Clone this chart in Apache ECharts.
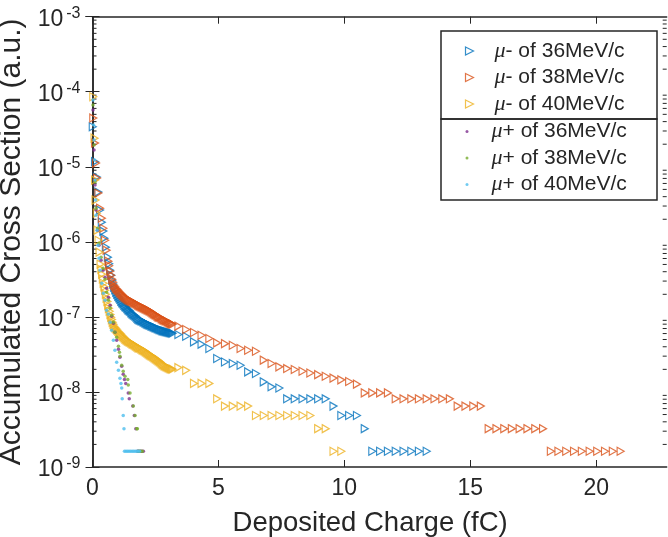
<!DOCTYPE html>
<html>
<head>
<meta charset="utf-8">
<script src="https://cdn.jsdelivr.net/npm/echarts@6/dist/echarts.min.js"></script>
<style>
  html, body { margin: 0; padding: 0; background: #fff; }
  #chart { width: 668px; height: 537px; }
</style>
</head>
<body>
<div id="chart"></div>
<script>
// values: [deposited charge (fC), accumulated cross section (a.u.)]
var xTicks = [0, 5, 10, 15, 20];

var muMinus36 = [
  [0.01,3.42e-5],[0.10,1.17e-5],[0.17,7.29e-6],[0.23,4.6e-6],[0.30,2.65e-6],[0.37,1.83e-6],[0.43,1.39e-6],
  [0.47,1.12e-6],[0.53,8.5e-7],[0.61,6.25e-7],[0.66,5.1e-7],
  [0.70,4.2e-7],[0.74,3.6e-7],[0.78,3.09e-7],[0.82,2.75e-7],[0.86,2.49e-7],[0.90,2.3e-7],[0.94,2.13e-7],
  [0.98,2.0e-7],[1.02,1.89e-7],[1.06,1.8e-7],[1.10,1.72e-7],[1.14,1.62e-7],[1.18,1.55e-7],[1.22,1.5e-7],
  [1.26,1.43e-7],[1.30,1.38e-7],[1.34,1.35e-7],[1.38,1.3e-7],[1.42,1.25e-7],[1.46,1.22e-7],[1.50,1.19e-7],
  [1.54,1.14e-7],[1.58,1.10e-7],[1.62,1.08e-7],[1.66,1.05e-7],[1.70,1.03e-7],[1.74,1.0e-7],[1.78,9.6e-8],
  [1.82,9.3e-8],[1.86,9.2e-8],[1.90,9.0e-8],[1.94,8.9e-8],[1.98,8.8e-8],[2.02,8.6e-8],[2.06,8.5e-8],
  [2.10,8.3e-8],[2.14,8.2e-8],[2.18,8.0e-8],[2.22,7.9e-8],[2.26,7.8e-8],[2.30,7.75e-8],[2.34,7.6e-8],
  [2.38,7.5e-8],[2.42,7.4e-8],[2.46,7.3e-8],[2.50,7.2e-8],[2.54,7.1e-8],[2.58,7.0e-8],[2.62,6.9e-8],
  [2.66,6.8e-8],[2.70,6.75e-8],[2.74,6.65e-8],[2.78,6.55e-8],[2.82,6.5e-8],[2.86,6.45e-8],[2.90,6.4e-8],
  [2.94,6.35e-8],[2.98,6.3e-8],[3.02,6.25e-8],[3.06,6.2e-8],[3.10,6.15e-8],[3.14,6.1e-8],[3.18,6.05e-8],
  [3.41,5.83e-8],[3.72,5.53e-8],[4.03,4.64e-8],[4.33,4.33e-8],[4.64,3.79e-8],[4.95,2.79e-8],[5.26,2.51e-8],
  [5.57,2.39e-8],[5.88,2.27e-8],[6.18,1.85e-8],[6.49,1.76e-8],[6.80,1.36e-8],[7.11,1.17e-8],[7.42,1.13e-8],
  [7.73,8.1e-9],[8.03,8.1e-9],[8.34,8.1e-9],[8.65,8.1e-9],[8.96,8.1e-9],[9.26,8.1e-9],[9.57,6.48e-9],
  [9.88,4.86e-9],[10.19,4.86e-9],[10.50,4.86e-9],[10.81,3.24e-9],[11.11,1.62e-9],[11.42,1.62e-9],
  [11.73,1.62e-9],[12.04,1.62e-9],[12.35,1.62e-9],[12.66,1.62e-9],[12.96,1.62e-9],[13.27,1.62e-9]
];

var muMinus38 = [
  [0.03,4.46e-5],[0.10,2.07e-5],[0.14,1.12e-5],[0.18,7.07e-6],[0.23,4.46e-6],[0.30,2.81e-6],[0.37,2.07e-6],
  [0.43,1.52e-6],[0.50,1.05e-6],[0.56,7.75e-7],[0.63,5.53e-7],[0.66,4.8e-7],
  [0.70,4.07e-7],[0.74,3.6e-7],[0.78,3.18e-7],[0.82,2.9e-7],[0.86,2.65e-7],[0.90,2.52e-7],[0.94,2.41e-7],
  [0.98,2.34e-7],[1.02,2.27e-7],[1.06,2.18e-7],[1.10,2.10e-7],[1.14,2.04e-7],[1.18,1.98e-7],[1.22,1.92e-7],
  [1.26,1.86e-7],[1.30,1.82e-7],[1.34,1.78e-7],[1.38,1.74e-7],[1.42,1.70e-7],[1.46,1.67e-7],[1.50,1.64e-7],
  [1.54,1.62e-7],[1.58,1.60e-7],[1.62,1.57e-7],[1.66,1.55e-7],[1.70,1.52e-7],[1.74,1.50e-7],[1.78,1.46e-7],
  [1.82,1.43e-7],[1.86,1.41e-7],[1.90,1.39e-7],[1.94,1.37e-7],[1.98,1.35e-7],[2.02,1.33e-7],[2.06,1.31e-7],
  [2.10,1.29e-7],[2.14,1.27e-7],[2.18,1.25e-7],[2.22,1.23e-7],[2.26,1.21e-7],[2.30,1.19e-7],[2.34,1.16e-7],
  [2.38,1.14e-7],[2.42,1.11e-7],[2.46,1.09e-7],[2.50,1.07e-7],[2.54,1.05e-7],[2.58,1.02e-7],[2.62,1.0e-7],
  [2.66,9.9e-8],[2.70,9.8e-8],[2.74,9.5e-8],[2.78,9.3e-8],[2.82,9.1e-8],[2.86,9.0e-8],[2.90,8.9e-8],
  [2.94,8.8e-8],[2.98,8.6e-8],[3.02,8.5e-8],[3.06,8.3e-8],[3.10,8.2e-8],[3.14,8.1e-8],[3.18,8.0e-8],
  [3.41,7.52e-8],[3.72,6.79e-8],[4.03,6.2e-8],[4.33,5.7e-8],[4.64,5.15e-8],[4.95,4.5e-8],[5.26,4.4e-8],
  [5.57,4.19e-8],[5.88,3.79e-8],[6.18,3.6e-8],[6.49,3.49e-8],[6.80,2.65e-8],[7.11,2.39e-8],[7.42,2.16e-8],
  [7.73,2.05e-8],[8.03,1.99e-8],[8.34,1.89e-8],[8.65,1.79e-8],[8.96,1.70e-8],[9.26,1.62e-8],[9.57,1.53e-8],
  [9.88,1.45e-8],[10.19,1.38e-8],[10.50,1.27e-8],[10.81,9.72e-9],[11.11,9.72e-9],[11.42,9.72e-9],
  [11.73,9.72e-9],[12.04,8.1e-9],[12.35,8.1e-9],[12.66,8.1e-9],[12.96,8.1e-9],[13.27,8.1e-9],[13.58,8.1e-9],
  [13.89,8.1e-9],[14.19,8.1e-9],[14.50,6.48e-9],[14.81,6.48e-9],[15.12,6.48e-9],[15.42,6.48e-9],
  [15.73,3.24e-9],[16.04,3.24e-9],[16.35,3.24e-9],[16.65,3.24e-9],[16.96,3.24e-9],[17.27,3.24e-9],
  [17.58,3.24e-9],[17.89,3.24e-9],[18.20,1.62e-9],[18.50,1.62e-9],[18.81,1.62e-9],[19.12,1.62e-9],
  [19.43,1.62e-9],[19.74,1.62e-9],[20.04,1.62e-9],[20.35,1.62e-9],[20.66,1.62e-9],[20.97,1.62e-9]
];

var muMinus40 = [
  [0.03,8.58e-5],[0.08,2.41e-5],[0.10,6.65e-6],[0.12,3.6e-6],[0.17,2.41e-6],[0.20,1.43e-6],[0.24,1.05e-6],
  [0.28,7.29e-7],[0.32,5.04e-7],[0.35,4.3e-7],[0.38,3.71e-7],[0.41,3.2e-7],[0.44,2.81e-7],[0.47,2.52e-7],
  [0.50,2.27e-7],[0.53,2.0e-7],[0.56,1.78e-7],[0.59,1.6e-7],[0.62,1.43e-7],[0.65,1.3e-7],[0.68,1.19e-7],
  [0.71,1.08e-7],[0.74,9.9e-8],[0.77,9.2e-8],[0.80,8.5e-8],[0.83,8.0e-8],[0.86,7.52e-8],[0.90,7.2e-8],
  [0.94,6.96e-8],[0.98,6.7e-8],[1.02,6.45e-8],[1.06,6.25e-8],[1.10,6.06e-8],[1.14,5.85e-8],[1.18,5.62e-8],
  [1.22,5.45e-8],[1.26,5.28e-8],[1.30,5.1e-8],[1.34,4.97e-8],[1.38,4.85e-8],[1.42,4.74e-8],[1.46,4.67e-8],
  [1.50,4.60e-8],[1.54,4.5e-8],[1.58,4.39e-8],[1.62,4.32e-8],[1.66,4.26e-8],[1.70,4.16e-8],[1.74,4.07e-8],
  [1.78,3.97e-8],[1.82,3.88e-8],[1.86,3.85e-8],[1.90,3.82e-8],[1.94,3.73e-8],[1.98,3.65e-8],[2.02,3.6e-8],
  [2.06,3.54e-8],[2.10,3.46e-8],[2.14,3.38e-8],[2.18,3.3e-8],[2.22,3.23e-8],[2.26,3.16e-8],[2.30,3.09e-8],
  [2.34,3.04e-8],[2.38,2.99e-8],[2.42,2.92e-8],[2.46,2.86e-8],[2.50,2.8e-8],[2.54,2.73e-8],[2.58,2.67e-8],
  [2.62,2.61e-8],[2.66,2.55e-8],[2.70,2.49e-8],[2.74,2.41e-8],[2.78,2.34e-8],[2.82,2.29e-8],[2.86,2.24e-8],
  [2.90,2.2e-8],[2.94,2.17e-8],[2.98,2.13e-8],[3.02,2.10e-8],[3.06,2.07e-8],[3.10,2.04e-8],[3.14,2.02e-8],
  [3.18,2.01e-8],
  [3.41,2.11e-8],[3.72,1.94e-8],[4.03,1.3e-8],[4.33,1.3e-8],[4.64,1.3e-8],[4.95,8.1e-9],[5.26,6.48e-9],
  [5.57,6.48e-9],[5.88,6.48e-9],[6.18,6.48e-9],[6.49,4.86e-9],[6.80,4.86e-9],[7.11,4.86e-9],[7.42,4.86e-9],
  [7.73,4.86e-9],[8.03,4.86e-9],[8.34,4.86e-9],[8.65,4.86e-9],[8.96,3.24e-9],[9.26,3.24e-9],
  [9.57,1.62e-9],[9.88,1.62e-9]
];

var muPlus36 = [
  [0.02,5.7e-5],[0.06,1.67e-5],[0.10,5.7e-6],[0.14,2.65e-6],[0.20,1.43e-6],[0.26,9.04e-7],[0.34,5.7e-7],
  [0.42,4.2e-7],[0.50,3.38e-7],[0.56,2.41e-7],[0.63,1.83e-7],[0.70,1.43e-7],[0.76,1.02e-7],[0.83,8.24e-8],
  [0.89,6.25e-8],[0.96,4.89e-8],[1.03,3.71e-8],[1.09,2.9e-8],[1.16,2.2e-8],[1.22,1.72e-8],[1.27,1.46e-8],
  [1.32,1.3e-8],[1.42,9.72e-9],[1.46,8.1e-9],[1.60,6.48e-9],[1.66,4.86e-9],[1.72,3.24e-9],
  [1.79,1.62e-9],[1.84,1.62e-9],[1.90,1.62e-9],[1.96,1.62e-9],[2.02,1.62e-9]
];

var muPlus38 = [
  [0.02,6.65e-5],[0.06,1.95e-5],[0.10,6.25e-6],[0.14,2.81e-6],[0.20,1.52e-6],[0.26,9.61e-7],[0.34,6.25e-7],
  [0.42,4.46e-7],[0.50,3.18e-7],[0.56,2.13e-7],[0.63,1.67e-7],[0.70,1.31e-7],[0.76,1.05e-7],[0.83,8.5e-8],
  [0.89,6.25e-8],[0.96,5.36e-8],[1.03,4.07e-8],[1.07,3.38e-8],[1.09,2.99e-8],[1.16,2.27e-8],[1.22,1.89e-8],
  [1.29,1.62e-8],[1.40,1.46e-8],[1.42,1.24e-8],[1.49,9.72e-9],[1.62,6.48e-9],[1.69,4.86e-9],[1.76,3.24e-9],
  [1.78,3.24e-9],[1.81,1.62e-9],[1.87,1.62e-9],[1.92,1.62e-9],[1.98,1.62e-9]
];

var muPlus40 = [
  [0.02,7.75e-5],[0.04,3.6e-5],[0.06,2.27e-5],[0.08,1.23e-5],[0.10,6.65e-6],[0.12,3.6e-6],[0.14,2.27e-6],
  [0.18,1.43e-6],[0.22,9.04e-7],[0.26,6.06e-7],[0.30,4.2e-7],[0.37,2.81e-7],[0.43,2.07e-7],[0.50,1.67e-7],
  [0.56,1.23e-7],[0.63,1.09e-7],[0.70,8.5e-8],[0.76,6.65e-8],[0.83,4.89e-8],[0.89,3.6e-8],[0.96,2.49e-8],
  [1.03,1.95e-8],[1.09,1.52e-8],[1.13,1.3e-8],[1.16,1.13e-8],[1.18,8.1e-9],[1.22,4.86e-9],[1.25,3.24e-9],
  [1.27,1.62e-9],[1.33,1.62e-9],[1.39,1.62e-9],[1.45,1.62e-9],[1.51,1.62e-9],[1.57,1.62e-9],[1.63,1.62e-9],
  [1.69,1.62e-9],[1.75,1.62e-9],[1.81,1.62e-9],[1.87,1.62e-9]
];

var names = ['μ- of 36MeV/c', 'μ- of 38MeV/c', 'μ- of 40MeV/c', 'μ+ of 36MeV/c', 'μ+ of 38MeV/c', 'μ+ of 40MeV/c'];
var colors = ['#0072BD', '#D95319', '#EDB120', '#7E2F8E', '#77AC30', '#4DBEEE'];

var ink = '#262626';
var font = 'Liberation Sans, Arial, Helvetica, sans-serif';
var triPath = 'path://M0,0L10,5L0,10Z';

// log-axis minor ticks (2..9 in each decade)
var minorTicks = [];
for (var e = -9; e < -3; e++) {
  for (var m = 2; m <= 9; m++) minorTicks.push([0, m * Math.pow(10, e)]);
}

function legendFmt(name) {
  return '{m|μ}{t|' + name.slice(1) + '}';
}
function legendRich(pad) {
  return {
    m: { fontFamily: 'Liberation Serif, serif', fontStyle: 'italic', fontSize: 22, color: ink, padding: [0, 0, 0, pad] },
    t: { fontFamily: font, fontSize: 21, color: ink }
  };
}

var chart = echarts.init(document.getElementById('chart'));

var series = [];
[muMinus36, muMinus38, muMinus40].forEach(function (d, i) {
  series.push({
    type: 'scatter', name: names[i], data: d,
    symbol: triPath, symbolSize: [7, 8],
    itemStyle: { color: 'none', borderColor: colors[i], borderWidth: 1.2 },
    emphasis: { disabled: true }, silent: true
  });
});
[muPlus36, muPlus38, muPlus40].forEach(function (d, i) {
  series.push({
    type: 'scatter', name: names[i + 3], data: d,
    symbol: 'circle', symbolSize: 3.5,
    itemStyle: { color: colors[i + 3] },
    emphasis: { disabled: true }, silent: true
  });
});
series.push({
  type: 'custom', name: 'minor', data: minorTicks, silent: true, clip: false,
  encode: { x: 0, y: 1 },
  renderItem: function (params, api) {
    var y = api.coord([api.value(0), api.value(1)])[1];
    var cs = params.coordSys;
    var st = { stroke: ink, lineWidth: 1 };
    return {
      type: 'group', children: [
        { type: 'line', shape: { x1: cs.x, y1: y, x2: cs.x + 4, y2: y }, style: st },
        { type: 'line', shape: { x1: cs.x + cs.width, y1: y, x2: cs.x + cs.width - 4, y2: y }, style: st }
      ]
    };
  }
});

var axisLine = { show: true, lineStyle: { color: ink, width: 1.5 } };

chart.setOption({
  animation: false,
  backgroundColor: '#fff',
  grid: { left: 92.5, right: 1.3, top: 16.7, bottom: 70, outerBoundsMode: 'none', containLabel: false },
  xAxis: [{
    type: 'value', min: 0, max: 22.8, position: 'bottom',
    name: 'Deposited Charge (fC)', nameLocation: 'middle', nameGap: 42,
    nameTextStyle: { fontFamily: font, fontSize: 27.5, color: ink, padding: [0, 19, 0, 0] },
    axisLine: axisLine,
    axisTick: { inside: true, length: 7, lineStyle: { color: ink }, customValues: xTicks },
    axisLabel: { fontFamily: font, fontSize: 23, color: ink, margin: 10, customValues: xTicks },
    splitLine: { show: false }
  }, {
    type: 'value', min: 0, max: 22.8, position: 'top',
    axisLine: axisLine,
    axisTick: { inside: true, length: 7, lineStyle: { color: ink }, customValues: xTicks },
    axisLabel: { show: false },
    splitLine: { show: false }
  }],
  yAxis: [{
    type: 'log', logBase: 10, min: 1e-9, max: 1e-3, position: 'left',
    name: 'Accumulated Cross Section (a.u.)', nameLocation: 'middle', nameGap: 50,
    nameTextStyle: { fontFamily: font, fontSize: 30, color: ink },
    axisLine: axisLine,
    axisTick: { inside: true, length: 7, lineStyle: { color: ink } },
    axisLabel: {
      margin: 12, color: ink,
      formatter: function (v) { return '{b|10}{s|' + Math.round(Math.log10(v)) + '}'; },
      rich: {
        b: { fontFamily: font, fontSize: 23, lineHeight: 23, padding: [6, 0, 0, 0], color: ink },
        s: { fontFamily: font, fontSize: 16, lineHeight: 16, verticalAlign: 'top', padding: [0, 0, 0, 3], color: ink }
      }
    },
    splitLine: { show: false }
  }, {
    type: 'log', logBase: 10, min: 1e-9, max: 1e-3, position: 'right',
    axisLine: axisLine,
    axisTick: { inside: true, length: 7, lineStyle: { color: ink } },
    axisLabel: { show: false },
    splitLine: { show: false }
  }],
  legend: [{
    orient: 'vertical', left: 463, top: 40, padding: 0, itemWidth: 8, itemHeight: 8, itemGap: 4.5,
    selectedMode: false, formatter: legendFmt,
    textStyle: { rich: legendRich(16) },
    data: [0, 1, 2].map(function (i) {
      return { name: names[i], icon: triPath, itemStyle: { color: 'none', borderColor: colors[i], borderWidth: 1.2 } };
    })
  }, {
    orient: 'vertical', left: 465.5, top: 120.5, padding: 0, itemWidth: 3, itemHeight: 3, itemGap: 4.5,
    selectedMode: false, formatter: legendFmt,
    textStyle: { rich: legendRich(18) },
    data: [3, 4, 5].map(function (i) {
      return { name: names[i], icon: 'circle', itemStyle: { color: colors[i] } };
    })
  }],
  graphic: [
    { type: 'rect', shape: { x: 441, y: 31, width: 216, height: 88 }, style: { fill: 'none', stroke: ink, lineWidth: 1.5 } },
    { type: 'rect', shape: { x: 441, y: 119, width: 216, height: 81 }, style: { fill: 'none', stroke: ink, lineWidth: 1.5 } }
  ],
  series: series
});
</script>
</body>
</html>
